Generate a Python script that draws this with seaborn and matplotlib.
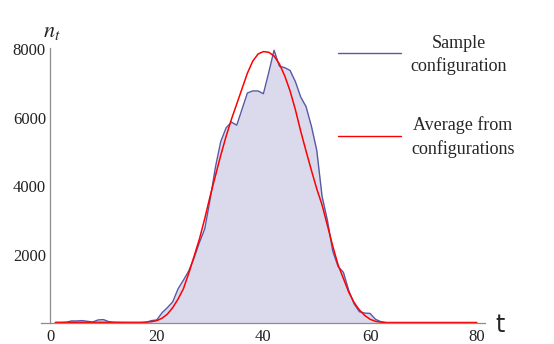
import numpy as np
import seaborn as sns
import matplotlib.pyplot as plt
from matplotlib.lines import Line2D

# time steps and the two series
t = np.arange(1, 81)
sample = [10, 10, 20, 60, 60, 70, 50, 30, 90, 100,
          40, 20, 15, 10, 10, 10, 10, 20, 70, 90,
          300, 450, 620, 1000, 1250, 1520, 1900, 2350, 2750, 3600,
          4550, 5300, 5700, 5870, 5780, 6250, 6720, 6780, 6780, 6700,
          7320, 7970, 7500, 7460, 7380, 7050, 6600, 6320, 5750, 5050,
          3700, 3000, 2100, 1650, 1480, 950, 560, 330, 290, 280,
          110, 40, 10] + [0] * 17
average = [20] * 17 + [25, 40, 70,
           140, 260, 450, 700, 1000, 1450, 1950, 2450, 3050, 3700,
           4300, 4900, 5450, 5950, 6400, 6850, 7300, 7650, 7860, 7930,
           7910, 7800, 7570, 7220, 6780, 6230, 5600, 5020, 4460, 3920,
           3450, 2850, 2250, 1700, 1300, 900, 600, 380, 220, 110,
           50, 25] + [15] * 18

sns.set_style('white')
plt.rcParams['font.family'] = ['Liberation Serif', 'DejaVu Serif']
plt.rcParams['mathtext.fontset'] = 'stix'

blue = '#5858a8'
fill = '#dadaec'
grey = '#8c8c8c'

fig, ax = plt.subplots(figsize=(5.54, 3.44), dpi=100)
fig.subplots_adjust(left=0.074, right=0.875, bottom=0.061, top=0.860)

ax.fill_between(t, sample, 0, color=fill, lw=0)
sns.lineplot(x=t, y=sample, ax=ax, color=blue, lw=1)
sns.lineplot(x=t, y=average, ax=ax, color='red', lw=1.1)

ax.set_xlim(-1.7, 81.5)
ax.set_ylim(0, 8030)

# mathematica style axes
for s in ['top', 'right']:
    ax.spines[s].set_visible(False)
ax.spines['left'].set_position(('data', 0))
for s in ['left', 'bottom']:
    ax.spines[s].set_color(grey)
    ax.spines[s].set_linewidth(0.9)

ax.set_xticks([0, 20, 40, 60, 80])
ax.set_xticks(np.arange(0, 81, 5), minor=True)
ax.set_yticks([2000, 4000, 6000, 8000])
ax.set_yticks(np.arange(0, 8001, 500), minor=True)
ax.tick_params(which='both', direction='in', color=grey, width=0.8,
               labelsize=12, labelcolor='#222222')
ax.tick_params(which='major', length=5)
ax.tick_params(which='minor', length=3)
ax.tick_params(axis='x', pad=4)
ax.tick_params(axis='y', pad=3)
ax.set_xlabel('')
ax.set_ylabel('')

fig.text(43 / 554, 1 - 37 / 344, '$n_t$', fontsize=16, ha='left', va='baseline')
fig.text(500 / 554, 1 - 325 / 344, 't', fontsize=17, ha='center', va='center',
         family='DejaVu Sans')

# legend drawn by hand, text centred like the original
fig.add_artist(Line2D([338 / 554, 401 / 554], [1 - 53 / 344] * 2, color=blue, lw=1))
fig.add_artist(Line2D([338 / 554, 401 / 554], [1 - 136 / 344] * 2, color='red', lw=1))
fig.text(459 / 554, 1 - 55 / 344, 'Sample\nconfiguration', fontsize=13,
         ha='center', va='center', multialignment='center', linespacing=1.4)
fig.text(463 / 554, 1 - 137 / 344, 'Average from\nconfigurations', fontsize=13,
         ha='center', va='center', multialignment='center', linespacing=1.4)

plt.savefig('out.png', dpi=100)
